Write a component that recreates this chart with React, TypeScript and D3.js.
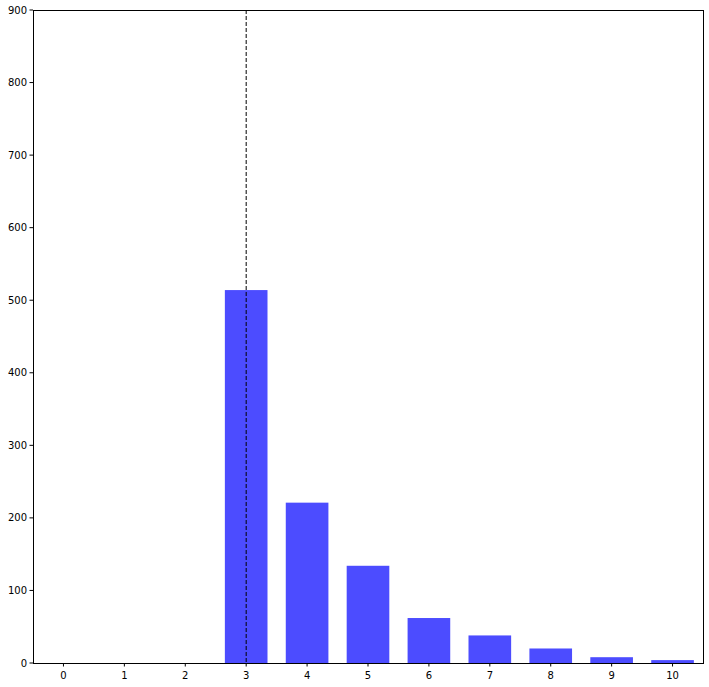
import React from "react";
import * as d3 from "d3";

const categories = [3, 4, 5, 6, 7, 8, 9, 10];
const counts = [514, 221, 134, 62, 38, 20, 8, 4];
const xTicks = [0, 1, 2, 3, 4, 5, 6, 7, 8, 9, 10];
const yTicks = [0, 100, 200, 300, 400, 500, 600, 700, 800, 900];
const markerX = 3;

export default function App() {
  const W = 709, H = 687;
  const left = 33, right = 703, top = 10, bottom = 663;
  const x = d3.scaleLinear().domain([-0.5, 10.5]).range([left, right]);
  const y = d3.scaleLinear().domain([0, 900]).range([bottom, top]);
  const bw = 0.7;
  const font = "DejaVu Sans, sans-serif";
  return (
    <svg width={W} height={H} style={{ position: "absolute", left: 0, top: 0, background: "#fff" }}>
      <rect x={0} y={0} width={W} height={H} fill="#fff" />
      {categories.map((c, i) => (
        <rect
          key={c}
          x={x(c - bw / 2)}
          width={x(c + bw / 2) - x(c - bw / 2)}
          y={y(counts[i])}
          height={y(0) - y(counts[i])}
          fill="blue"
          fillOpacity={0.7}
        />
      ))}
      <line x1={x(markerX)} x2={x(markerX)} y1={top} y2={bottom} stroke="#000" strokeWidth={1} strokeDasharray="4,2" />
      <rect x={left} y={top} width={right - left} height={bottom - top} fill="none" stroke="#000" strokeWidth={1} shapeRendering="crispEdges" />
      {xTicks.map((t) => (
        <g key={t}>
          <line x1={x(t)} x2={x(t)} y1={bottom} y2={bottom + 3.5} stroke="#000" />
          <text x={x(t)} y={bottom + 16} textAnchor="middle" fontFamily={font} fontSize={10} fill="#000">{t}</text>
        </g>
      ))}
      {yTicks.map((t) => (
        <g key={t}>
          <line x1={left - 3.5} x2={left} y1={y(t)} y2={y(t)} stroke="#000" />
          <text x={left - 6} y={y(t)} dy="0.35em" textAnchor="end" fontFamily={font} fontSize={10} fill="#000">{t}</text>
        </g>
      ))}
    </svg>
  );
}
